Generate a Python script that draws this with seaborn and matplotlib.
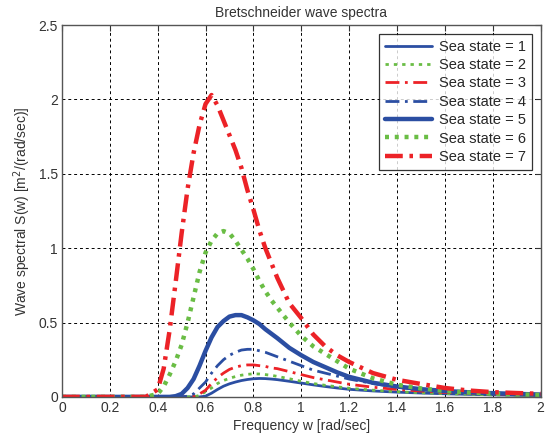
import matplotlib
matplotlib.use("Agg")
import matplotlib.pyplot as plt
import seaborn as sns
import pandas as pd

freq = [0.00, 0.30, 0.35, 0.40, 0.425, 0.45, 0.475, 0.50, 0.525, 0.55, 0.575, 0.60,
        0.625, 0.65, 0.675, 0.70, 0.725, 0.75, 0.775, 0.80, 0.825, 0.85, 0.875, 0.90,
        0.95, 1.00, 1.05, 1.10, 1.15, 1.20, 1.30, 1.40, 1.50, 1.60, 1.70, 1.80, 1.90, 2.00]

s1 = [0, 0, 0, 0, 0, 0, 0, 0, 0, 0, 0.0, 0.005,
      0.025, 0.05, 0.072, 0.088, 0.100, 0.110, 0.117, 0.122, 0.124, 0.123, 0.120, 0.116,
      0.105, 0.093, 0.081, 0.070, 0.060, 0.051, 0.040, 0.032, 0.026, 0.021, 0.017, 0.014, 0.011, 0.009]
s2 = [0, 0, 0, 0, 0, 0, 0, 0, 0, 0.0, 0.01, 0.035,
      0.06, 0.09, 0.11, 0.125, 0.137, 0.146, 0.152, 0.155, 0.154, 0.150, 0.145, 0.138,
      0.122, 0.105, 0.090, 0.078, 0.068, 0.058, 0.045, 0.035, 0.028, 0.022, 0.018, 0.014, 0.012, 0.010]
s3 = [0, 0, 0, 0, 0, 0, 0, 0, 0.0, 0.005, 0.02, 0.045,
      0.09, 0.13, 0.16, 0.185, 0.200, 0.210, 0.215, 0.215, 0.210, 0.205, 0.195, 0.190,
      0.170, 0.150, 0.130, 0.115, 0.100, 0.085, 0.065, 0.050, 0.039, 0.030, 0.024, 0.019, 0.016, 0.013]
s4 = [0, 0, 0, 0, 0, 0, 0, 0.0, 0.005, 0.02, 0.06, 0.10,
      0.16, 0.21, 0.25, 0.28, 0.30, 0.315, 0.32, 0.32, 0.31, 0.30, 0.285, 0.27,
      0.24, 0.21, 0.18, 0.16, 0.14, 0.12, 0.09, 0.065, 0.05, 0.038, 0.030, 0.024, 0.019, 0.016]
s5 = [0, 0, 0, 0, 0, 0.0, 0.005, 0.02, 0.06, 0.12, 0.21, 0.31,
      0.40, 0.47, 0.51, 0.54, 0.55, 0.55, 0.535, 0.515, 0.49, 0.455, 0.425, 0.395,
      0.33, 0.28, 0.235, 0.20, 0.165, 0.135, 0.095, 0.07, 0.052, 0.040, 0.031, 0.025, 0.020, 0.016]
s6 = [0, 0, 0, 0.02, 0.07, 0.15, 0.24, 0.35, 0.50, 0.67, 0.84, 0.97,
      1.05, 1.10, 1.115, 1.10, 1.05, 0.99, 0.93, 0.86, 0.78, 0.71, 0.65, 0.60,
      0.50, 0.41, 0.34, 0.29, 0.24, 0.19, 0.125, 0.082, 0.057, 0.040, 0.029, 0.022, 0.017, 0.013]
s7 = [0, 0, 0, 0.05, 0.19, 0.45, 0.77, 1.10, 1.40, 1.64, 1.83, 1.97,
      2.03, 1.96, 1.86, 1.76, 1.66, 1.54, 1.39, 1.26, 1.12, 1.00, 0.90, 0.80,
      0.63, 0.53, 0.42, 0.34, 0.28, 0.235, 0.16, 0.115, 0.087, 0.060, 0.043, 0.032, 0.026, 0.021]

labels = ["Sea state = 1", "Sea state = 2", "Sea state = 3", "Sea state = 4",
          "Sea state = 5", "Sea state = 6", "Sea state = 7"]
series = [s1, s2, s3, s4, s5, s6, s7]

BLUE = "#2b4ea2"
GREEN = "#6abd45"
RED = "#ec2227"
styles = [
    dict(color=BLUE, lw=2.0, ls="-"),
    dict(color=GREEN, lw=2.0, ls=(0, (1.2, 1.8))),
    dict(color=RED, lw=2.0, ls=(0, (5, 2, 1, 2))),
    dict(color=BLUE, lw=2.0, ls=(0, (5, 2, 1, 2))),
    dict(color=BLUE, lw=3.2, ls="-"),
    dict(color=GREEN, lw=3.2, ls=(0, (0.9, 1.3))),
    dict(color=RED, lw=3.2, ls=(0, (4, 1.5, 0.8, 1.5))),
]

sns.set_style("white")
plt.rcParams["font.family"] = ["Liberation Sans", "DejaVu Sans"]

fig = plt.figure(figsize=(5.51, 4.41), dpi=100)
ax = fig.add_axes([0.1125, 0.10, 0.8685, 0.843])

for lab, vals, st in zip(labels, series, styles):
    df = pd.DataFrame({"w": freq, "S": vals})
    sns.lineplot(data=df, x="w", y="S", ax=ax, color=st["color"], linewidth=st["lw"],
                 linestyle=st["ls"], label=lab, estimator=None, sort=False)

ax.set_xlim(0, 2)
ax.set_ylim(0, 2.5)
ax.set_xticks([0, 0.2, 0.4, 0.6, 0.8, 1, 1.2, 1.4, 1.6, 1.8, 2])
ax.set_xticklabels(["0", "0.2", "0.4", "0.6", "0.8", "1", "1.2", "1.4", "1.6", "1.8", "2"])
ax.set_yticks([0, 0.5, 1, 1.5, 2, 2.5])
ax.set_yticklabels(["0", "0.5", "1", "1.5", "2", "2.5"])
ax.grid(True, color="black", linestyle=(0, (3, 3)), linewidth=0.7)
ax.tick_params(direction="in", length=4, labelsize=10, colors="#333333", pad=3,
               top=True, right=True)
for sp in ax.spines.values():
    sp.set_color("#555555")
    sp.set_linewidth(1.0)

ax.set_xlabel("Frequency w [rad/sec]", fontsize=10, color="#333333", labelpad=3)
ax.set_ylabel(r"Wave spectral S(w) [m$^2$/(rad/sec)]", fontsize=10, color="#333333", labelpad=4)
ax.set_title("Bretschneider wave spectra", fontsize=10, color="#333333", pad=6)

leg = ax.legend(loc="upper right", fontsize=10.5, frameon=True, fancybox=False,
                edgecolor="black", handlelength=3.2, borderaxespad=0.6,
                labelspacing=0.3, handletextpad=0.5, borderpad=0.4)
leg.get_frame().set_linewidth(0.9)

fig.savefig("out.png", dpi=100)
